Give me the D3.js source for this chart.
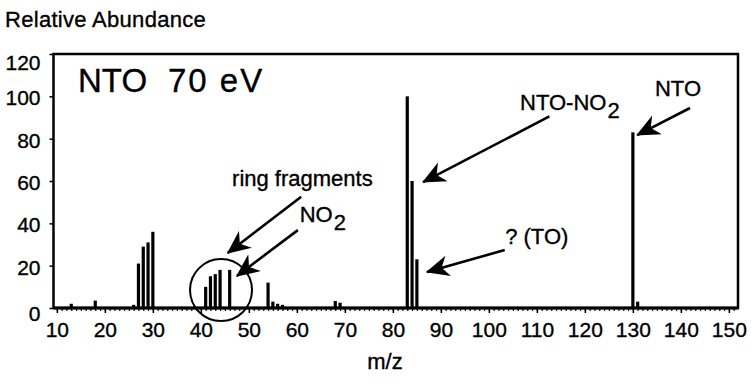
<!DOCTYPE html>
<html>
<head>
<meta charset="utf-8">
<script src="https://cdn.jsdelivr.net/npm/d3@7"></script>
<style>
  html, body { margin: 0; padding: 0; background: #fff; }
  svg { display: block; font-family: "Liberation Sans", Arial, Helvetica, sans-serif; }
  text { fill: #000; stroke: #000; stroke-width: 0.35px; }
</style>
</head>
<body>
<svg id="chart" width="751" height="384"></svg>
<script>
// ---- data ----
const mz        = [13, 18, 26, 27, 28, 29, 30, 41, 42, 43, 44, 46, 54, 55, 56, 57, 68, 69, 83, 84, 85, 130, 131];
const abundance = [2, 3.5, 1.5, 21, 29, 31, 36, 10, 15, 16, 18, 18, 12, 3, 2, 1.5, 3.3, 2.5, 100, 60, 23, 83, 3];
const xTicks = [10, 20, 30, 40, 50, 60, 70, 80, 90, 100, 110, 120, 130, 140, 150];
const yTicks = [0, 20, 40, 60, 80, 100, 120];
// annotation labels, anchored at (mz, abundance) = start of baseline
const annotations = [
  {text: "ring fragments", mz: 46.5, y: 57.6},
  {text: "NO", sub: "2", mz: 60.6, y: 40.6},
  {text: "NTO-NO", sub: "2", mz: 106.5, y: 93.5},
  {text: "? (TO)", mz: 103.4, y: 30.2},
  {text: "NTO", mz: 134.6, y: 100.2}
];
// arrows: tail -> head in data coordinates
const arrows = [
  {from: [60.9, 52.6], to: [45.6, 26]},
  {from: [60.2, 36.8], to: [47.5, 15.1]},
  {from: [112.6, 90.5], to: [86.3, 59.5]},
  {from: [103.3, 27.4], to: [87.1, 17.0]},
  {from: [141.9, 94.5], to: [130.9, 81.7]}
];

const svg = d3.select("#chart");
const x = d3.scaleLinear().domain([9.3, 151.9]).range([53.5, 738]);
const y = d3.scaleLinear().domain([0, 120]).range([308, 54]);

// frame
svg.append("rect")
  .attr("x", x.range()[0]).attr("y", y(120))
  .attr("width", x.range()[1] - x.range()[0]).attr("height", y(0) - y(120))
  .attr("fill", "none").attr("stroke", "#000").attr("stroke-width", 2.5);
svg.append("line").attr("x1", x.range()[0]).attr("x2", x.range()[1])
  .attr("y1", y(0)).attr("y2", y(0)).attr("stroke", "#000").attr("stroke-width", 3);

// minor x ticks
svg.append("g").attr("transform", `translate(0,${y(0)})`)
  .call(d3.axisBottom(x).tickValues(d3.range(10, 152, 1)).tickSize(3).tickFormat(""))
  .call(g => g.select(".domain").remove())
  .selectAll("line").attr("stroke-width", 1.2);

// major x ticks
const gx = svg.append("g").attr("transform", `translate(0,${y(0)})`)
  .call(d3.axisBottom(x).tickValues(xTicks).tickSize(5).tickPadding(9).tickFormat(d3.format("d")));
gx.select(".domain").remove();
gx.selectAll("line").attr("stroke-width", 1.5);
gx.selectAll("text").attr("font-size", 21).attr("font-family", "Liberation Sans, Arial, sans-serif");

// y axis
const gy = svg.append("g").attr("transform", `translate(${x.range()[0]},0)`)
  .call(d3.axisLeft(y).tickValues(yTicks).tickSize(4).tickPadding(9).tickFormat(d3.format("d")));
gy.select(".domain").remove();
gy.selectAll("line").attr("stroke-width", 1.5);
gy.selectAll("text").attr("font-size", 21).attr("font-family", "Liberation Sans, Arial, sans-serif")
  .attr("dy", d => d === 0 ? "0.6em" : d === 120 ? "0.72em" : "0.4em");

// bars
svg.append("g").selectAll("line").data(mz).join("line")
  .attr("x1", d => x(d)).attr("x2", d => x(d))
  .attr("y1", y(0)).attr("y2", (d, i) => y(abundance[i]))
  .attr("stroke", "#000").attr("stroke-width", 3.2);

// title & axis label
svg.append("text").attr("x", 5).attr("y", 27).attr("font-size", 22).attr("letter-spacing", 0.3).text("Relative Abundance");
svg.append("text").attr("x", 385).attr("y", 369).attr("text-anchor", "middle").attr("font-size", 22).text("m/z");

// chart heading
svg.append("text").attr("x", 78).attr("y", 92).attr("font-size", 33).text("NTO");
svg.append("text").attr("x", 168).attr("y", 92).attr("font-size", 33).attr("letter-spacing", 2).text("70 eV");

// annotation text
const ann = svg.append("g").attr("font-size", 22);
annotations.forEach(a => {
  const t = ann.append("text").attr("x", x(a.mz)).attr("y", y(a.y));
  t.append("tspan").text(a.text);
  if (a.sub) t.append("tspan").attr("dy", 8).attr("dx", 1).text(a.sub);
});

// arrows
const defs = svg.append("defs");
defs.append("marker").attr("id", "ah").attr("viewBox", "0 0 10 10")
  .attr("refX", 9.5).attr("refY", 5).attr("markerWidth", 9).attr("markerHeight", 9)
  .attr("markerUnits", "strokeWidth").attr("orient", "auto")
  .append("path").attr("d", "M0,0.5 L10,5 L0,9.5 L3,5 Z").attr("fill", "#000");
svg.append("g").selectAll("line").data(arrows).join("line")
  .attr("x1", d => x(d.from[0])).attr("y1", d => y(d.from[1]))
  .attr("x2", d => x(d.to[0])).attr("y2", d => y(d.to[1]))
  .attr("stroke", "#000").attr("stroke-width", 2.6).attr("marker-end", "url(#ah)");

// circle around ring fragments
svg.append("circle").attr("cx", x(44.2)).attr("cy", y(8.5)).attr("r", 31)
  .attr("fill", "none").attr("stroke", "#000").attr("stroke-width", 2);
</script>
</body>
</html>
